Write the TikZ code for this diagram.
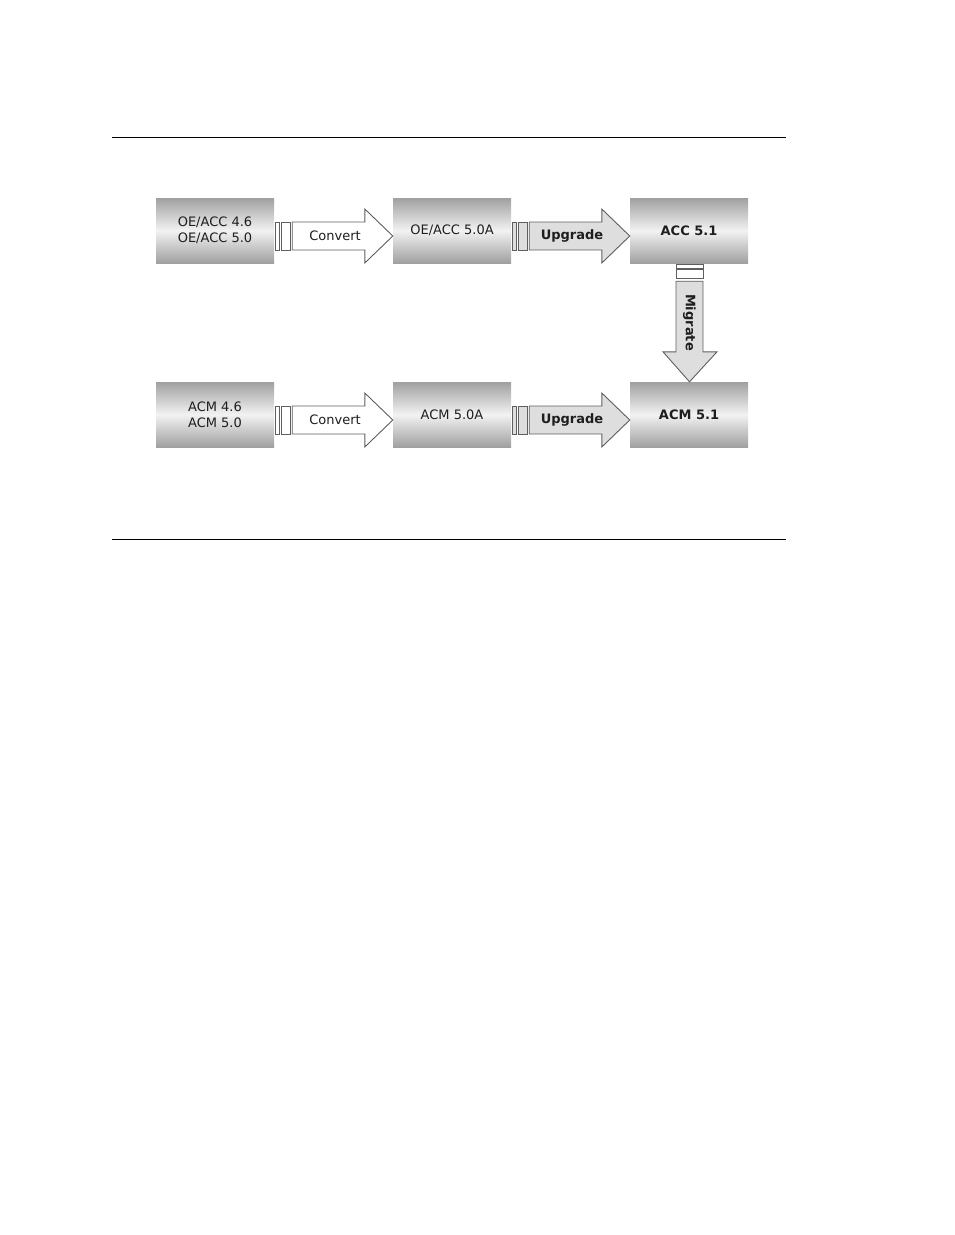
\documentclass[tikz,border=0pt]{standalone}
\usepackage{fontspec}
\setmainfont{DejaVu Sans}
\usetikzlibrary{calc}
\definecolor{boxdark}{RGB}{160,160,160}
\definecolor{boxlight}{RGB}{242,242,242}
\definecolor{arrline}{RGB}{95,95,95}
\definecolor{arrfill}{RGB}{222,222,222}
\definecolor{txt}{RGB}{30,30,30}
\tikzset{
  box/.style={minimum width=118pt,minimum height=65pt,inner sep=0pt,align=center,
    top color=boxdark,bottom color=boxdark,middle color=boxlight,text=txt,
    font=\fontsize{13}{16}\selectfont},
  boldbox/.style={box,font=\fontsize{13}{16}\selectfont\bfseries},
  arrshape/.style={draw=arrline,line width=0.9pt,line join=miter},
  lbl/.style={inner sep=0pt,text=txt,font=\fontsize{13}{16}\selectfont},
  boldlbl/.style={lbl,font=\fontsize{13}{16}\selectfont\bfseries},
  rule/.style={draw=black,line width=1pt}
}
% #1 from node, #2 to node, #3 fill, #4 label name, #5 label style, #6 text
\newcommand\hflowarrow[6]{%
  \draw[arrshape,fill=#3] ($(#1.east)+(1,-8.5)$) rectangle ($(#1.east)+(5.5,19.5)$);
  \draw[arrshape,fill=#3] ($(#1.east)+(7,-8.5)$) rectangle ($(#1.east)+(16,19.5)$);
  \draw[arrshape,fill=#3] ($(#1.east)+(18,-8.5)$) -- ($(#2.west)+(-28,-8.5)$)
    -- ($(#2.west)+(-28,-21.5)$) -- ($(#2.west)+(0,5.5)$) -- ($(#2.west)+(-28,32.5)$)
    -- ($(#2.west)+(-28,19.5)$) -- ($(#1.east)+(18,19.5)$) -- cycle;
  \node[#5] (#4) at ($($(#1.east)!0.5!(#2.west)$)+(1.5,5.5)$) {#6};
}
\begin{document}
\begin{tikzpicture}[x=1pt,y=-1pt]
\useasboundingbox (0,0) rectangle (954,1235);
\coordinate (r1a) at (112,137);
\coordinate (r1b) at (786,137);
\coordinate (r2a) at (112,539);
\coordinate (r2b) at (786,539);
\draw[rule] (r1a) -- (r1b);
\draw[rule] (r2a) -- (r2b);

\node[box] (a1) at (215,230.5) {OE/ACC 4.6\\OE/ACC 5.0};
\node[box] (a2) at (452,230.5) {OE/ACC 5.0A};
\node[boldbox] (a3) at (689,230.5) {ACC 5.1};
\node[box] (b1) at (215,414.5) {ACM 4.6\\ACM 5.0};
\node[box] (b2) at (452,414.5) {ACM 5.0A};
\node[boldbox] (b3) at (689,414.5) {ACM 5.1};

\hflowarrow{a1}{a2}{white}{conv1}{lbl}{Convert}
\hflowarrow{a2}{a3}{arrfill}{upg1}{boldlbl}{Upgrade}
\hflowarrow{b1}{b2}{white}{conv2}{lbl}{Convert}
\hflowarrow{b2}{b3}{arrfill}{upg2}{boldlbl}{Upgrade}

% vertical migrate arrow
\draw[arrshape,fill=white] ($(a3.south)+(-13,1)$) rectangle ($(a3.south)+(14,5)$);
\draw[arrshape,fill=white] ($(a3.south)+(-13,6.5)$) rectangle ($(a3.south)+(14,15.5)$);
\draw[arrshape,fill=arrfill] ($(a3.south)+(-13,18)$) -- ($(b3.north)+(-13,-30)$)
  -- ($(b3.north)+(-26,-30)$) -- ($(b3.north)+(0.5,0)$) -- ($(b3.north)+(28,-30)$)
  -- ($(b3.north)+(14,-30)$) -- ($(a3.south)+(14,18)$) -- cycle;
\node[boldlbl,rotate=-90] (mig) at ($($(a3.south)!0.5!(b3.north)$)+(0.5,0)$) {Migrate};
\end{tikzpicture}
\end{document}
